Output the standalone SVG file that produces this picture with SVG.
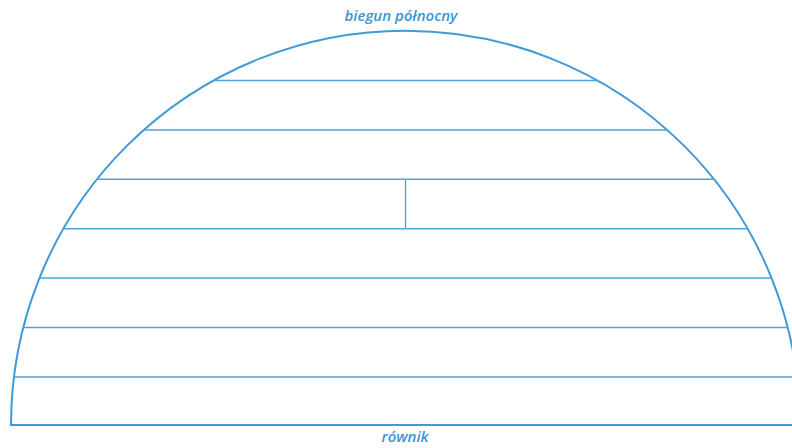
<svg xmlns="http://www.w3.org/2000/svg" width="792" height="448" viewBox="0 0 792 448">
<style>
.arc{fill:none;stroke:#3f9ad8;stroke-width:2}
.ln{fill:none;stroke:#4fa2dc;stroke-width:1.4}
.lbl{font-family:"Open Sans","Liberation Sans",sans-serif;font-style:italic;font-weight:600;font-size:15px;fill:#3a95d4;text-anchor:middle}
</style>
<rect width="792" height="448" fill="#ffffff"/>
<g id="hemisphere">
<path class="arc" d="M 11 425 A 394.5 394.5 0 0 1 800 425 Z"/>
</g>
<g id="lines">
<line class="ln" x1="213.3" y1="80.5" x2="597.7" y2="80.5"/>
<line class="ln" x1="143.6" y1="130" x2="667.4" y2="130"/>
<line class="ln" x1="96.9" y1="179.3" x2="714.1" y2="179.3"/>
<line class="ln" x1="63.3" y1="228.7" x2="747.7" y2="228.7"/>
<line class="ln" x1="39.4" y1="278" x2="771.6" y2="278"/>
<line class="ln" x1="23.2" y1="327.5" x2="787.8" y2="327.5"/>
<line class="ln" x1="13.9" y1="377" x2="797" y2="377"/>
<line class="ln" x1="405.5" y1="179.3" x2="405.5" y2="228.7"/>
</g>
<g id="labels">
<text class="lbl" x="401" y="21">biegun północny</text>
<text class="lbl" x="405" y="442">równik</text>
</g>
</svg>
